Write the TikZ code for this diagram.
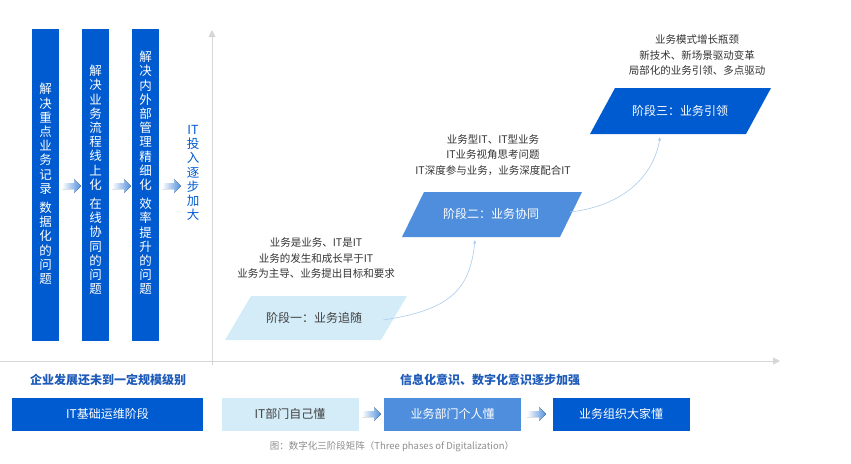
\documentclass[tikz,border=0pt]{standalone}
\usepackage{fontspec}
\setmainfont{Noto Sans CJK SC}
\usetikzlibrary{arrows.meta}
\definecolor{dblue}{HTML}{005BD0}
\definecolor{mblue}{HTML}{4F8EDC}
\definecolor{lblue}{HTML}{D3ECF8}
\definecolor{tblue}{HTML}{1E5BB8}
\definecolor{axisg}{HTML}{D6D6D6}
\definecolor{curveb}{HTML}{A9CBEA}
\tikzset{
  col/.style={fill=dblue,draw=none,minimum width=27pt,minimum height=312pt,inner sep=0pt},
  vtext/.style={text=white,font=\fontsize{12.5}{14.2}\selectfont,align=center,inner sep=0pt},
  ptext/.style={font=\fontsize{12}{14}\selectfont,inner sep=0pt},
  desc/.style={align=center,font=\fontsize{10.5}{15.5}\selectfont,text=black!80},
  bbox/.style={minimum width=137pt,minimum height=33pt,inner sep=0pt,draw=none,font=\fontsize{12}{14}\selectfont},
  curve/.style={draw=curveb,line width=0.6pt,-{Stealth[length=4pt,width=3pt]}}
}
\newcommand{\garr}[2]{\fill[left color=white,right color=mblue] (#1-9,#2-3) -- (#1+3,#2-3) -- (#1+3,#2-7) -- (#1+10,#2) -- (#1+3,#2+7) -- (#1+3,#2+3) -- (#1-9,#2+3) -- cycle;}
% parallelogram: bottom-left x, top y, bottom y, width, slant, colour
\newcommand{\plg}[6]{\fill[#6] (#1,#3) -- (#1+#5,#2) -- (#1+#5+#4,#2) -- (#1+#4,#3) -- cycle;}
\begin{document}
\begin{tikzpicture}[x=1pt,y=-1pt]
\useasboundingbox (0,0) rectangle (851,463);
% columns
\node[col] (c1) at (45.5,185) {};
\node[col] (c2) at (95.5,185) {};
\node[col] (c3) at (145.5,185) {};
\node[vtext] (t1) at (45.5,184) {解\\决\\重\\点\\业\\务\\记\\录\\[5pt]数\\据\\化\\的\\问\\题};
\node[vtext] (t2) at (95.5,180) {解\\决\\业\\务\\流\\程\\线\\上\\化\\[5pt]在\\线\\协\\同\\的\\问\\题};
\node[vtext] (t3) at (145.5,173) {解\\决\\内\\外\\部\\管\\理\\精\\细\\化\\[5pt]效\\率\\提\\升\\的\\问\\题};
\garr{71}{186}
\garr{121}{186}
\garr{171}{186}
\node[align=center,text=dblue,font=\fontsize{12.5}{14.2}\selectfont,inner sep=0pt] (it) at (193,173) {IT\\投\\入\\逐\\步\\加\\大};
% axes
\draw[axisg,line width=0.8pt,-{Triangle[length=7pt,width=7pt]}] (212,365) -- (212,30);
\draw[axisg,line width=0.8pt,-{Triangle[length=7pt,width=7pt]}] (0,361) -- (780,361);
% stages
\plg{225}{296}{340}{156}{26}{lblue}
\plg{402}{192}{237}{158}{22}{mblue}
\plg{590}{88}{134}{156}{25}{dblue}
\node[ptext,text=black!75] (s1) at (314,318) {阶段一：业务追随};
\node[ptext,text=white] (s2) at (491,214) {阶段二：业务协同};
\node[ptext,text=white] (s3) at (680,111) {阶段三：业务引领};
\node[desc,anchor=south] (d1) at (316,282) {业务是业务、IT是IT\\业务的发生和成长早于IT\\业务为主导、业务提出目标和要求};
\node[desc,anchor=south] (d2) at (493,179) {业务型IT、IT型业务\\IT业务视角思考问题\\IT深度参与业务，业务深度配合IT};
\node[desc,anchor=south] (d3) at (697,79) {业务模式增长瓶颈\\新技术、新场景驱动变革\\局部化的业务引领、多点驱动};
\draw[curve] (383,320) .. controls (450,310) and (470,290) .. (475,240);
\draw[curve] (570,212) .. controls (630,205) and (655,170) .. (660,137);
% bottom
\node[text=tblue,font=\bfseries\fontsize{12}{14}\selectfont] (l1) at (108,380) {企业发展还未到一定规模级别};
\node[text=tblue,font=\bfseries\fontsize{12}{14}\selectfont] (l2) at (490,380) {信息化意识、数字化意识逐步加强};
\node[bbox,fill=dblue,text=white,minimum width=191pt] (b0) at (107.5,414) {IT基础运维阶段};
\node[bbox,fill=lblue,text=black!75] (b1) at (290,414) {IT部门自己懂};
\node[bbox,fill=mblue,text=white] (b2) at (452.5,414) {业务部门个人懂};
\node[bbox,fill=dblue,text=white] (b3) at (621,414) {业务组织大家懂};
\garr{371}{414}
\garr{536}{414}
\node[text=black!45,font=\fontsize{9.5}{11}\selectfont] (cap) at (392,447) {图：数字化三阶段矩阵（Three phases of Digitalization）};
\end{tikzpicture}
\end{document}
